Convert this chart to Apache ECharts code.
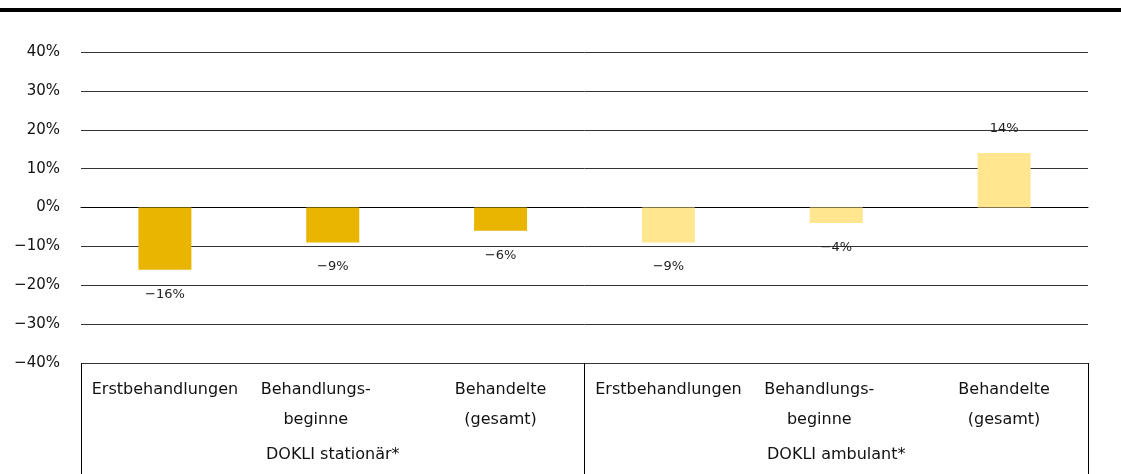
<!DOCTYPE html>
<html>
<head>
<meta charset="utf-8">
<script src="https://cdn.jsdelivr.net/npm/echarts@6/dist/echarts.min.js"></script>
<style>
  html, body { margin: 0; padding: 0; background: #fff; }
  #chart { width: 1121px; height: 474px; }
</style>
</head>
<body>
<div id="chart"></div>
<script>
var categories = ['Erstbehandlungen', 'Behandlungs-\nbeginne', 'Behandelte\n(gesamt)',
                  'Erstbehandlungen', 'Behandlungs-\nbeginne', 'Behandelte\n(gesamt)'];
var groups = ['DOKLI stationär*', 'DOKLI ambulant*'];
var values = [-16, -9, -6, -9, -4, 14];
var groupColors = ['#E9B500', '#FFE68F'];

var font = 'DejaVu Sans';
function pct(v) {
    return (v < 0 ? '\u2212' + Math.abs(v) : v) + '%';
}

var chart = echarts.init(document.getElementById('chart'));
chart.setOption({
    animation: false,
    textStyle: { fontFamily: font },
    graphic: [{
        type: 'rect',
        shape: { x: 0, y: 8, width: 1121, height: 4 },
        style: { fill: '#000' }
    }],
    grid: { left: 81, right: 33, top: 52, bottom: 111 },
    xAxis: [{
        type: 'category',
        data: categories.map(function (c) {
            // the "Behandlungs-" labels sit a little left of the band centre
            if (c.indexOf('Behandlungs') === 0) {
                return { value: c, textStyle: { padding: [0, 34, 0, 0] } };
            }
            return c;
        }),
        position: 'bottom',
        axisLine: { lineStyle: { color: '#000', width: 1 } },
        axisTick: { show: false },
        axisLabel: {
            interval: 0, margin: 12, color: '#111', fontSize: 16,
            lineHeight: 30, fontFamily: font
        }
    }, {
        type: 'category',
        data: groups,
        position: 'bottom',
        axisLine: { show: false },
        axisTick: { show: true, interval: 0, length: 120, lineStyle: { color: '#000' } },
        axisLabel: {
            interval: 0, margin: 82, color: '#111', fontSize: 16,
            lineHeight: 20, fontFamily: font
        }
    }],
    yAxis: {
        type: 'value',
        min: -40, max: 40, interval: 10,
        axisLine: { show: false },
        axisTick: { show: false },
        splitLine: { lineStyle: { color: '#333', width: 1 } },
        axisLabel: {
            margin: 21, color: '#111', fontSize: 15, fontFamily: font,
            formatter: function (v) { return pct(v); }
        }
    },
    series: [{
        type: 'bar',
        xAxisIndex: 0,
        barWidth: 53,
        data: values.map(function (v, i) {
            return {
                value: v,
                itemStyle: { color: groupColors[i < 3 ? 0 : 1] },
                label: { position: v < 0 ? 'bottom' : 'top' }
            };
        }),
        label: {
            show: true, distance: 18, color: '#222', fontSize: 13, fontFamily: font,
            formatter: function (p) { return pct(p.value); }
        }
    }]
});
</script>
</body>
</html>
